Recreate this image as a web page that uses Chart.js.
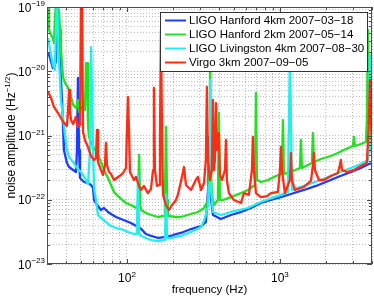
<!DOCTYPE html>
<html>
<head>
<meta charset="utf-8">
<title>noise amplitude</title>
<script src="https://cdn.jsdelivr.net/npm/chart.js@4.4.1/dist/chart.umd.min.js"></script>
<style>
  html, body { margin: 0; padding: 0; background: #ffffff; }
  #box { position: relative; width: 374px; height: 298px; }
</style>
</head>
<body>
<div id="box"><canvas id="chart"></canvas></div>
<script>
// values: frequency in Hz, amplitude in Hz^-1/2
var h1Freq = [30.5, 31.4, 32.8, 34.3, 34.9, 35.4, 35.9, 36.5, 37.6, 38.2, 38.7, 40.5, 41.8, 44.4, 46.4, 47.1, 47.8, 48.6, 49.3, 52.4,
  55.6, 58.2, 60.0, 60.9, 64.6, 67.6, 70.7, 75.1, 78.6, 84.8, 91.4, 98.5, 106, 115, 124, 133, 144, 160, 175, 194,
  209, 225, 262, 305, 328, 339, 344, 349, 365, 411, 478, 556, 647, 751, 873, 1015, 1180, 1436, 1719, 1998,
  2393, 2912, 3383, 3817, 4054];
var h1Amp = [1.99e-20, 1.61e-20, 1.12e-20, 1.39e-20, 4.39e-20, 7.78e-20, 3.06e-20, 1.39e-20, 3.57e-21, 1.36e-21,
  5.94e-22, 3.73e-22, 3.23e-22, 2.90e-22, 2.70e-22, 5.94e-22, 7.85e-21, 5.94e-22, 2.18e-22, 1.89e-22,
  1.82e-22, 1.70e-22, 1.52e-22, 9.91e-23, 7.99e-23, 6.93e-23, 7.44e-23, 6.45e-23, 6.00e-23, 5.39e-23,
  5.02e-23, 4.67e-23, 4.35e-23, 3.90e-23, 3.50e-23, 2.93e-23, 2.73e-23, 2.54e-23, 2.63e-23, 2.73e-23,
  2.93e-23, 3.04e-23, 3.50e-23, 3.90e-23, 4.50e-23, 1.42e-22, 9.48e-22, 1.42e-22, 5.79e-23, 5.02e-23,
  5.79e-23, 6.45e-23, 7.44e-23, 8.90e-23, 9.91e-23, 1.10e-22, 1.23e-22, 1.42e-22, 1.64e-22, 1.89e-22,
  2.26e-22, 2.70e-22, 3.12e-22, 3.60e-22, 3.73e-22];

var h2Freq = [30.5, 30.9, 31.9, 32.8, 33.3, 33.8, 34.3, 34.9, 35.4, 35.9, 36.5, 37.0, 38.2, 39.3, 41.2, 43.1, 44.4, 46.4, 47.8, 48.6,
  50.0, 51.6, 53.1, 54.0, 54.8, 55.6, 56.4, 58.2, 60.9, 64.6, 67.6, 70.7, 75.1, 78.6, 82.2, 87.4, 91.4, 98.5, 106, 115,
  118, 120, 122, 124, 133, 144, 160, 175, 177, 180, 183, 185, 209, 225, 262, 291, 319, 339, 344, 349,
  354, 359, 370, 393, 399, 405, 424, 478, 556, 618, 687, 697, 708, 751, 835, 942, 1031, 1046, 1062, 1180,
  1351, 1372, 1393, 1479, 1619, 1644, 1668, 1854, 2154, 2393, 2700, 3000, 3046, 3093, 3383, 3650, 3704, 3761, 3817, 3875,
  4054];
var h2Amp = [1.1e-19, 4.39e-20, 3.66e-20, 3.29e-20, 2.75e-20, 6.27e-20, 1.1e-19, 1.1e-19, 5.25e-20, 8.98e-20,
  4.39e-20, 2.14e-20, 8.14e-21, 6.57e-21, 5.49e-21, 3.97e-21, 2.98e-21, 2.68e-21, 3.57e-21, 2.32e-21,
  2.68e-21, 2.68e-21, 2.49e-21, 1.34e-20, 1.34e-20, 1.46e-21, 9.48e-22, 7.92e-22, 6.39e-22, 4.97e-22,
  3.87e-22, 2.90e-22, 2.18e-22, 1.70e-22, 1.32e-22, 1.14e-22, 1.03e-22, 8.90e-23, 8.29e-23, 7.44e-23,
  8.29e-23, 4.97e-22, 8.29e-23, 6.93e-23, 6.22e-23, 5.79e-23, 5.39e-23, 5.59e-23, 9.91e-23, 1.36e-21,
  9.91e-23, 5.59e-23, 5.39e-23, 5.39e-23, 6.00e-23, 6.45e-23, 7.44e-23, 9.91e-23, 5.94e-22, 4.39e-20,
  2.90e-22, 1.19e-22, 8.29e-23, 9.91e-23, 2.24e-21, 9.91e-23, 9.91e-23, 1.10e-22, 1.27e-22, 1.42e-22,
  1.70e-22, 4.59e-21, 2.03e-22, 1.89e-22, 2.03e-22, 2.34e-22, 2.52e-22, 1.74e-21, 2.52e-22, 2.70e-22,
  3.12e-22, 8.51e-22, 3.12e-22, 3.35e-22, 3.73e-22, 1.09e-21, 3.87e-22, 4.31e-22, 4.80e-22, 5.34e-22,
  6.16e-22, 6.86e-22, 9.48e-22, 6.86e-22, 7.37e-22, 7.92e-22, 1.74e-21, 4.39e-20, 1.74e-21, 7.92e-22,
  8.51e-22];

var l1Freq = [30.5, 31.4, 32.8, 33.8, 34.3, 34.9, 35.4, 35.9, 37.0, 38.2, 39.3, 40.5, 41.8, 44.4, 47.1, 50.0, 53.1, 55.6, 57.3, 58.2,
  59.0, 60.0, 60.9, 62.7, 64.6, 67.6, 72.9, 78.6, 84.8, 91.4, 101.5, 111, 116, 118, 120, 124, 133, 144, 160, 175,
  177, 180, 183, 194, 225, 262, 305, 324, 339, 344, 349, 354, 365, 411, 478, 618, 751, 1015, 1128, 1163,
  1198, 1436, 1854, 2393, 2912, 3383, 3761, 3817, 3875, 3934, 4054];
var l1Amp = [3.29e-20, 2.14e-20, 1.25e-20, 1.05e-20, 4.39e-20, 1.2e-19, 1.2e-19, 1.50e-20, 3.57e-21, 1.87e-21,
  1.02e-21, 5.94e-22, 4.63e-22, 3.87e-22, 3.12e-22, 2.70e-22, 2.18e-22, 1.76e-22, 5.94e-22, 2.38e-20,
  2.38e-20, 5.94e-22, 1.52e-22, 9.91e-23, 5.79e-23, 5.20e-23, 4.50e-23, 3.90e-23, 3.63e-23, 3.50e-23,
  3.15e-23, 2.93e-23, 2.93e-23, 2.43e-22, 2.93e-23, 2.73e-23, 2.54e-23, 2.36e-23, 2.28e-23, 2.36e-23,
  2.54e-23, 1.19e-22, 2.54e-23, 2.54e-23, 2.73e-23, 3.15e-23, 3.77e-23, 5.20e-23, 8.29e-23, 1.70e-22,
  7.31e-21, 1.42e-22, 6.45e-23, 5.79e-23, 6.45e-23, 7.44e-23, 9.23e-23, 1.19e-22, 1.32e-22, 2.14e-20,
  1.42e-22, 1.64e-22, 2.03e-22, 2.61e-22, 3.12e-22, 3.60e-22, 4.16e-22, 5.94e-22, 1.79e-20, 5.94e-22,
  4.47e-22];

var v1Freq = [30.5, 31.9, 33.3, 35.4, 37.0, 38.7, 40.5, 41.2, 41.8, 42.4, 43.1, 44.4, 46.4, 47.8, 49.3, 50.0, 50.8, 51.6, 53.1, 55.6,
  58.2, 60.9, 62.7, 63.7, 64.6, 67.6, 69.7, 71.8, 72.9, 74.0, 76.3, 78.6, 82.2, 87.4, 91.4, 94.2, 98.5, 100, 101.5, 103.1,
  104.6, 111, 114.5, 119.8, 123.5, 129, 137, 143.5, 148, 150, 152.4, 157, 162, 164.4, 166.8, 169.4, 172, 180, 188, 197,
  209, 215, 225, 236, 243, 262, 282, 291, 305, 319, 328, 333, 338.5, 349, 359, 365, 370, 376, 382, 387.5,
  399, 405, 418, 437, 444, 450, 464, 500, 556, 582, 627, 656, 666, 676, 697, 751, 822, 873, 970, 1000,
  1015, 1031, 1078, 1163, 1180, 1198, 1253, 1436, 1595, 1644, 1668, 1694, 1798, 1940, 2154, 2393, 2467, 2504, 2542, 2741,
  3046, 3383, 3704, 3817, 3875, 3934, 4054];
var v1Amp = [4.75e-21, 3.83e-21, 2.78e-21, 2.24e-21, 1.87e-21, 1.57e-21, 1.41e-21, 2.49e-21, 5.11e-21, 2.32e-21,
  1.74e-21, 1.51e-21, 1.94e-21, 1.36e-21, 1.46e-21, 1.1e-19, 1.1e-19, 1.13e-21, 8.51e-22, 6.62e-22,
  4.80e-22, 4.16e-22, 4.47e-22, 1.22e-21, 3.87e-22, 2.90e-22, 2.43e-22, 3.47e-22, 7.64e-22, 3.47e-22,
  2.70e-22, 2.52e-22, 2.03e-22, 2.26e-22, 2.43e-22, 2.61e-22, 3.12e-22, 1.22e-21, 3.97e-21, 1.22e-21,
  2.70e-22, 2.03e-22, 2.26e-22, 1.64e-22, 1.42e-22, 1.64e-22, 1.27e-22, 1.47e-22, 2.90e-22, 5.49e-21,
  2.90e-22, 1.64e-22, 1.70e-22, 1.22e-21, 4.39e-20, 1.22e-21, 1.19e-22, 8.29e-23, 6.93e-23, 8.29e-23,
  9.91e-23, 1.19e-22, 1.89e-22, 3.23e-22, 1.70e-22, 1.42e-22, 2.03e-22, 2.26e-22, 1.42e-22, 1.82e-22,
  4.16e-22, 5.69e-21, 4.16e-22, 2.03e-22, 2.90e-22, 3.57e-21, 2.90e-22, 4.16e-22, 3.20e-21, 5.94e-22,
  1.09e-21, 2.43e-22, 2.03e-22, 2.90e-22, 8.51e-22, 2.03e-22, 1.27e-22, 9.91e-23, 8.90e-23, 1.27e-22,
  1.19e-22, 2.90e-22, 9.48e-22, 2.90e-22, 1.27e-22, 1.10e-22, 1.14e-22, 1.27e-22, 1.32e-22, 2.90e-22,
  6.62e-22, 2.90e-22, 1.27e-22, 2.03e-22, 5.34e-22, 2.03e-22, 1.42e-22, 1.58e-22, 1.96e-22, 3.47e-22,
  5.34e-22, 2.90e-22, 2.03e-22, 2.03e-22, 2.34e-22, 2.61e-22, 3.47e-22, 4.16e-22, 2.90e-22, 2.70e-22,
  2.90e-22, 3.35e-22, 3.73e-22, 1.74e-21, 7.31e-21, 1.74e-21, 4.16e-22];

var seriesNames = ['LIGO Hanford 4km 2007\u221203\u221218', 'LIGO Hanford 2km 2007\u221205\u221214',
  'LIGO Livingston 4km 2007\u221208\u221230', 'Virgo 3km 2007\u221209\u221205'];

// grid positions and the labelled decades
var xGrid = [30, 40, 50, 60, 70, 80, 90, 100, 200, 300, 400, 500, 600, 700, 800, 900, 1000, 2000, 3000, 4000];
var yGrid = [1e-23, 2e-23, 3e-23, 4e-23, 5e-23, 6e-23, 7e-23, 8e-23, 9e-23,
  1e-22, 2e-22, 3e-22, 4e-22, 5e-22, 6e-22, 7e-22, 8e-22, 9e-22,
  1e-21, 2e-21, 3e-21, 4e-21, 5e-21, 6e-21, 7e-21, 8e-21, 9e-21,
  1e-20, 2e-20, 3e-20, 4e-20, 5e-20, 6e-20, 7e-20, 8e-20, 9e-20, 1e-19];
var xTickValues = [100, 1000];
var xTickExps = ['2', '3'];
var yTickValues = [1e-23, 1e-22, 1e-21, 1e-20, 1e-19];
var yTickExps = ['\u221223', '\u221222', '\u221221', '\u221220', '\u221219'];

var FONT = '"Liberation Sans", Arial, Helvetica, sans-serif';

function pairs(fs, as) {
  return fs.map(function (f, i) { return { x: f, y: as[i] }; });
}

function powerText(ctx, base, exp, x, y, align, size) {
  var big = size + 'px ' + FONT;
  var small = Math.round(size * 0.68) + 'px ' + FONT;
  ctx.font = big;
  var wb = ctx.measureText(base).width;
  ctx.font = small;
  var we = ctx.measureText(exp).width;
  var left = x;
  if (align === 'right') left = x - wb - we;
  if (align === 'center') left = x - (wb + we) / 2;
  ctx.textAlign = 'left';
  ctx.textBaseline = 'alphabetic';
  ctx.font = big;
  ctx.fillText(base, left, y);
  ctx.font = small;
  ctx.fillText(exp, left + wb, y - size * 0.45);
  return left + wb + we;
}

function seg(ctx, x1, y1, x2, y2) {
  ctx.beginPath();
  ctx.moveTo(x1, y1);
  ctx.lineTo(x2, y2);
  ctx.stroke();
}

// matlab style box, inward ticks, labels and legend
var matlabAxes = {
  id: 'matlabAxes',
  afterDraw: function (chart) {
    var ctx = chart.ctx, a = chart.chartArea;
    var xs = chart.scales.x, ys = chart.scales.y;
    ctx.save();

    ctx.strokeStyle = '#4d4d4d';
    ctx.lineWidth = 1;
    xs.ticks.forEach(function (t) {
      var px = Math.round(xs.getPixelForValue(t.value)) + 0.5;
      var len = xTickValues.indexOf(t.value) >= 0 ? 5 : 3;
      seg(ctx, px, a.bottom, px, a.bottom - len);
      seg(ctx, px, a.top, px, a.top + len);
    });
    ys.ticks.forEach(function (t) {
      var py = Math.round(ys.getPixelForValue(t.value)) + 0.5;
      var len = yTickValues.indexOf(t.value) >= 0 ? 5 : 3;
      seg(ctx, a.left, py, a.left + len, py);
      seg(ctx, a.right, py, a.right - len, py);
    });
    ctx.strokeRect(Math.round(a.left) + 0.5, Math.round(a.top) + 0.5,
      Math.round(a.right - a.left) - 1, Math.round(a.bottom - a.top) - 1);

    ctx.fillStyle = '#000';
    xTickValues.forEach(function (v, i) {
      powerText(ctx, '10', xTickExps[i], xs.getPixelForValue(v), a.bottom + 18, 'center', 12);
    });
    yTickValues.forEach(function (v, i) {
      powerText(ctx, '10', yTickExps[i], a.left - 2, ys.getPixelForValue(v) + 4.5, 'right', 12);
    });

    ctx.font = '11.5px ' + FONT;
    ctx.textAlign = 'center';
    ctx.fillText('frequency (Hz)', (a.left + a.right) / 2, a.bottom + 29);

    ctx.save();
    ctx.translate(15, (a.top + a.bottom) / 2);
    ctx.rotate(-Math.PI / 2);
    ctx.font = '12px ' + FONT;
    var w1 = ctx.measureText('noise amplitude (Hz').width;
    ctx.font = '8px ' + FONT;
    var w2 = ctx.measureText('\u22121/2').width;
    ctx.font = '12px ' + FONT;
    var w3 = ctx.measureText(')').width;
    var end = powerText(ctx, 'noise amplitude (Hz', '\u22121/2', -(w1 + w2 + w3) / 2, 0, 'left', 12);
    ctx.font = '12px ' + FONT;
    ctx.fillText(')', end, 0);
    ctx.restore();

    var lx = 160, ly = 12, lw = 207, lh = 59;
    ctx.fillStyle = '#fff';
    ctx.fillRect(lx, ly, lw, lh);
    ctx.strokeStyle = '#333';
    ctx.lineWidth = 1;
    ctx.strokeRect(lx + 0.5, ly + 0.5, lw, lh);
    chart.data.datasets.forEach(function (ds, i) {
      var yy = ly + 8.5 + i * 14;
      ctx.strokeStyle = ds.borderColor;
      ctx.lineWidth = 2;
      seg(ctx, lx + 5, yy, lx + 26, yy);
      ctx.fillStyle = '#000';
      ctx.font = '11.5px ' + FONT;
      ctx.textAlign = 'left';
      ctx.textBaseline = 'middle';
      ctx.fillText(ds.label, lx + 29, yy + 0.5);
    });
    ctx.restore();
  }
};

var chart = new Chart(document.getElementById('chart').getContext('2d'), {
  type: 'line',
  data: {
    datasets: [
      { label: seriesNames[0], data: pairs(h1Freq, h1Amp), borderColor: '#1a3dff', order: 4 },
      { label: seriesNames[1], data: pairs(h2Freq, h2Amp), borderColor: '#22e022', order: 3 },
      { label: seriesNames[2], data: pairs(l1Freq, l1Amp), borderColor: '#22eeee', order: 2 },
      { label: seriesNames[3], data: pairs(v1Freq, v1Amp), borderColor: '#ff2d14', order: 1 },
    ],
  },
  options: {
    responsive: true,
    maintainAspectRatio: false,
    animation: false,
    events: [],
    layout: { padding: { left: 47, top: 7, right: 2, bottom: 34 } },
    elements: {
      point: { radius: 0 },
      line: { borderWidth: 2.3, tension: 0, fill: false, borderJoinStyle: 'round' },
    },
    datasets: { line: { clip: 0 } },
    plugins: {
      legend: { display: false },
      tooltip: { enabled: false },
    },
    scales: {
      x: {
        type: 'logarithmic',
        min: 30,
        max: 4000,
        afterBuildTicks: function (scale) {
          scale.ticks = xGrid.map(function (v) { return { value: v }; });
        },
        ticks: { display: false, padding: 0 },
        grid: { color: '#bdbdbd', lineWidth: 1, drawTicks: false },
        border: { display: false, dash: [1, 2] },
      },
      y: {
        type: 'logarithmic',
        min: 1e-23,
        max: 1e-19,
        afterBuildTicks: function (scale) {
          scale.ticks = yGrid.map(function (v) { return { value: v }; });
        },
        ticks: { display: false, padding: 0 },
        grid: { color: '#bdbdbd', lineWidth: 1, drawTicks: false },
        border: { display: false, dash: [1, 2] },
      },
    },
  },
  plugins: [matlabAxes],
});
</script>
</body>
</html>
